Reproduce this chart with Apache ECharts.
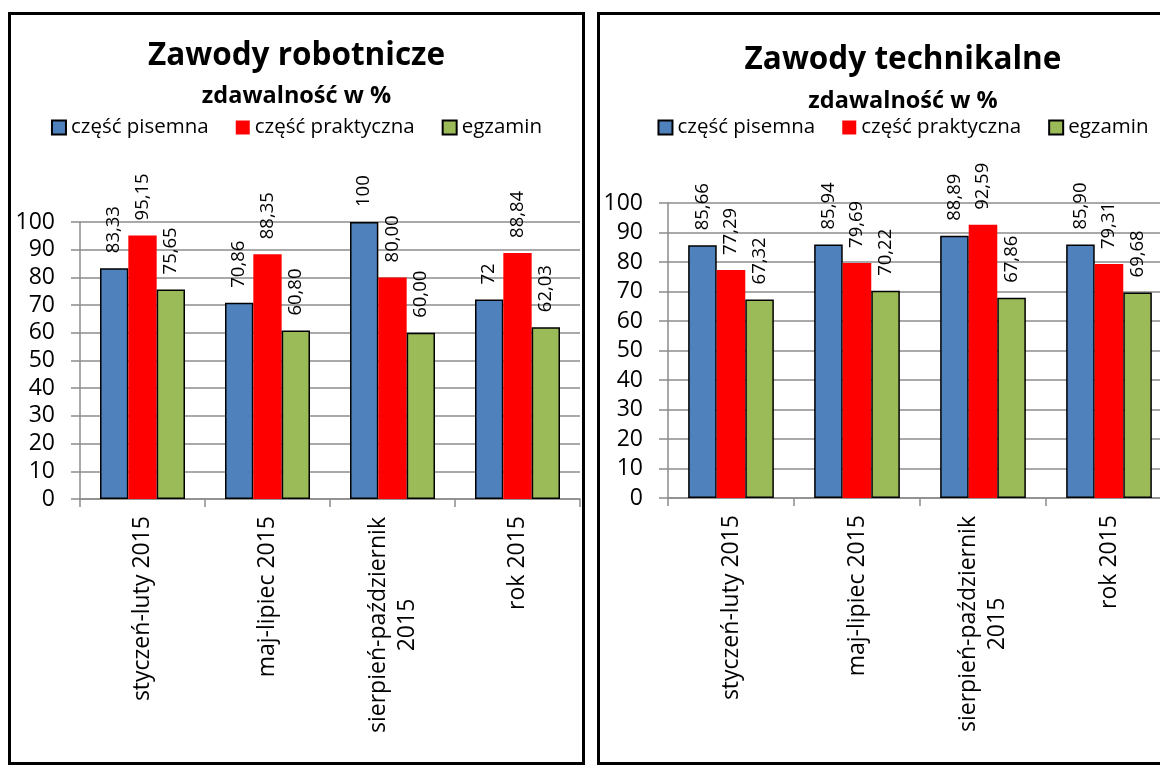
<!DOCTYPE html>
<html>
<head>
<meta charset="utf-8">
<script src="https://cdn.jsdelivr.net/npm/echarts@6/dist/echarts.min.js"></script>
<style>
  html, body { margin: 0; padding: 0; width: 1160px; height: 765px; overflow: hidden; background: #fff; }
  .panel { position: absolute; top: 12px; height: 753px; box-sizing: border-box; border: 3px solid #000; background: #fff; }
  #left { left: 8px; width: 577px; }
  #right { left: 597px; width: 612px; }
  .chart { width: 100%; height: 100%; }
</style>
</head>
<body>
<div class="panel" id="left"><div class="chart" id="chartLeft"></div></div>
<div class="panel" id="right"><div class="chart" id="chartRight"></div></div>
<script>
// categories / legend
const categories = ['styczeń-luty 2015', 'maj-lipiec 2015', 'sierpień-październik\n2015', 'rok 2015'];
const seriesNames = ['część pisemna', 'część praktyczna', 'egzamin'];

// Zawody robotnicze
const robPisemna = [83.33, 70.86, 100, 72];
const robPraktyczna = [95.15, 88.35, 80.00, 88.84];
const robEgzamin = [75.65, 60.80, 60.00, 62.03];

// Zawody technikalne
const techPisemna = [85.66, 85.94, 88.89, 85.90];
const techPraktyczna = [77.29, 79.69, 92.59, 79.31];
const techEgzamin = [67.32, 70.22, 67.86, 69.68];

// y axis 0..100 step 10
const yMin = 0, yMax = 100, yStep = 10;

const FONT = '"Open Sans", sans-serif';
const GRID_COLOR = '#8c8c8c';
const colors = ['#4F81BD', '#FF0000', '#9BBB59'];

// excel "general" format prints whole numbers without decimals
function fmt(v, general) {
  if (general && Number.isInteger(v)) return String(v);
  return v.toFixed(2).replace('.', ',');
}

function makeSeries(name, data, idx, general) {
  return {
    name: name,
    type: 'bar',
    data: data,
    barGap: 0,
    barCategoryGap: '32%',
    itemStyle: {
      color: colors[idx],
      borderColor: idx === 1 ? 'transparent' : '#000',
      borderWidth: idx === 1 ? 0 : 1.5
    },
    label: {
      show: true,
      position: 'top',
      rotate: 90,
      align: 'left',
      verticalAlign: 'middle',
      distance: 15,
      fontFamily: FONT,
      fontSize: 18.5,
      color: '#000',
      formatter: p => fmt(p.value, general)
    },
    emphasis: { disabled: true }
  };
}

function buildOption(cfg) {
  return {
    animation: false,
    title: [
      {
        text: cfg.title, left: 'center', top: cfg.titleTop, padding: 0,
        textStyle: { fontFamily: FONT, fontSize: 31.5, fontWeight: 'bold', color: '#000', lineHeight: 31 }
      },
      {
        text: 'zdawalność w %', left: 'center', top: cfg.subTop, padding: 0,
        textStyle: { fontFamily: FONT, fontSize: 23.5, fontWeight: 'bold', color: '#000', lineHeight: 23 }
      }
    ],
    legend: {
      data: seriesNames,
      left: 'center',
      top: 102,
      padding: 0,
      icon: 'rect',
      itemWidth: 14,
      itemHeight: 14,
      itemGap: 27,
      selectedMode: false,
      textStyle: { fontFamily: FONT, fontSize: 20.5, color: '#000', padding: [0, 0, 0, 0] }
    },
    grid: cfg.grid,
    xAxis: {
      type: 'category',
      data: categories,
      axisLine: { lineStyle: { color: GRID_COLOR, width: 1.5 } },
      axisTick: { show: true, length: 8, alignWithLabel: false, interval: 0, lineStyle: { color: GRID_COLOR, width: 1.5 } },
      axisLabel: {
        interval: 0,
        rotate: 90,
        margin: 17,
        fontFamily: FONT,
        fontSize: 23,
        color: '#000',
        lineHeight: 29,
        formatter: v => v.indexOf('\n') >= 0 ? v.split('\n').map(s => '{c|' + s + '}').join('\n') : v,
        rich: {
          c: { width: 218, align: 'center', fontFamily: FONT, fontSize: 23, color: '#000', lineHeight: 29 }
        }
      }
    },
    yAxis: {
      type: 'value',
      min: yMin,
      max: yMax,
      interval: yStep,
      axisLine: { show: true, lineStyle: { color: GRID_COLOR, width: 1.5 } },
      axisTick: { show: true, length: 9, lineStyle: { color: GRID_COLOR, width: 1.5 } },
      axisLabel: { margin: 25, fontFamily: FONT, fontSize: 23, color: '#000' },
      splitLine: { show: true, lineStyle: { color: GRID_COLOR, width: 1.5 } }
    },
    series: [
      makeSeries(seriesNames[0], cfg.data[0], 0, cfg.general),
      makeSeries(seriesNames[1], cfg.data[1], 1, false),
      makeSeries(seriesNames[2], cfg.data[2], 2, false)
    ]
  };
}

const leftChart = echarts.init(document.getElementById('chartLeft'));
leftChart.setOption(buildOption({
  title: 'Zawody robotnicze',
  titleTop: 26,
  subTop: 70,
  grid: { left: 69, top: 207, width: 500, height: 277 },
  data: [robPisemna, robPraktyczna, robEgzamin],
  general: true
}));

const rightChart = echarts.init(document.getElementById('chartRight'));
rightChart.setOption(buildOption({
  title: 'Zawody technikalne',
  titleTop: 30,
  subTop: 75,
  grid: { left: 68, top: 188, width: 504, height: 295 },
  data: [techPisemna, techPraktyczna, techEgzamin],
  general: false
}));
</script>
</body>
</html>
